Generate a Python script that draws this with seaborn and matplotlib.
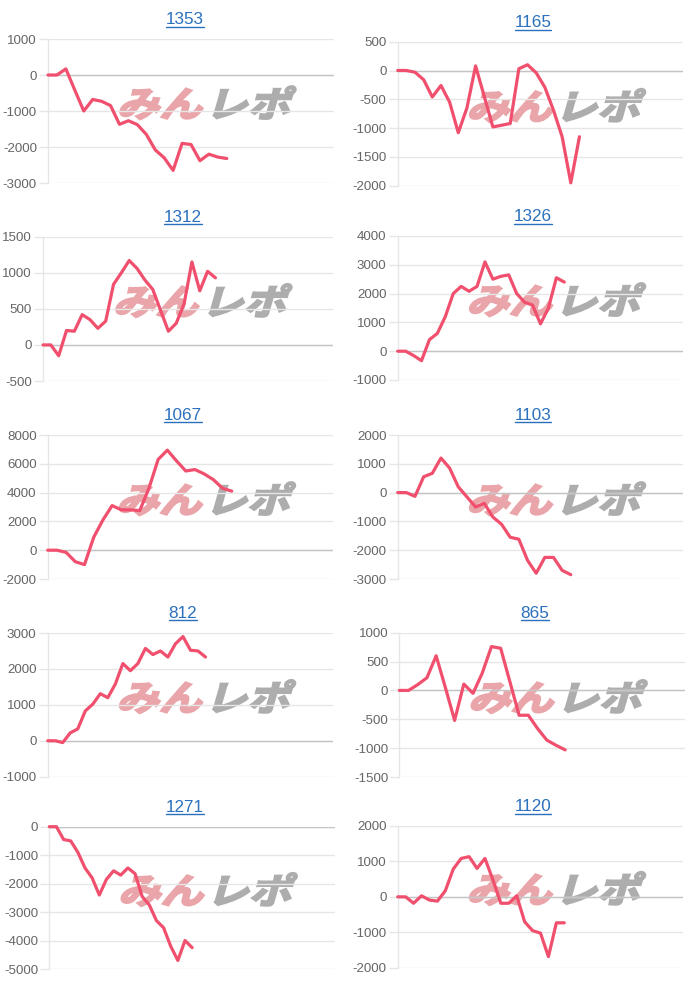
import matplotlib
matplotlib.use("Agg")
import matplotlib.pyplot as plt
import seaborn as sns
import pandas as pd
from matplotlib.lines import Line2D
from matplotlib.textpath import TextPath
from matplotlib.patches import PathPatch
from matplotlib.font_manager import FontProperties
from matplotlib.transforms import Affine2D

# ---------------- data ----------------
machines = ["1353", "1165", "1312", "1326", "1067", "1103", "812", "865", "1271", "1120"]

v1353 = [0, 0, 170, -420, -1000, -680, -730, -850, -1370, -1270, -1380, -1650,
         -2080, -2300, -2650, -1900, -1930, -2380, -2200, -2280, -2320]
v1165 = [0, 0, -30, -160, -460, -260, -550, -1080, -650, 80, -450, -980, -950,
         -920, 30, 100, -40, -290, -690, -1150, -1950, -1150]
v1312 = [0, 0, -150, 200, 190, 420, 350, 230, 330, 840, 1000, 1170, 1060, 900,
         770, 480, 190, 300, 570, 1150, 750, 1020, 930]
v1326 = [0, 0, -150, -330, 400, 620, 1200, 2000, 2250, 2080, 2250, 3100, 2500,
         2600, 2650, 2000, 1700, 1600, 950, 1500, 2550, 2400]
v1067 = [0, 0, -150, -800, -1000, 900, 2100, 3100, 2800, 2800, 2750, 4300, 6300,
         6950, 6200, 5500, 5600, 5300, 4900, 4300, 4100]
v1103 = [0, 0, -130, 550, 670, 1200, 850, 200, -150, -500, -370, -850, -1100,
         -1550, -1620, -2350, -2800, -2250, -2250, -2700, -2850]
v812 = [0, 0, -50, 220, 330, 830, 1020, 1310, 1200, 1580, 2150, 1950, 2150, 2570,
        2400, 2500, 2330, 2700, 2900, 2520, 2500, 2330]
v865 = [0, 0, 100, 220, 600, 50, -520, 110, -50, 300, 760, 730, 150, -430, -430,
        -660, -860, -950, -1030]
v1271 = [0, 0, -450, -500, -900, -1450, -1800, -2400, -1850, -1550, -1700, -1450,
         -1650, -2450, -2750, -3300, -3550, -4200, -4700, -4000, -4250]
v1120 = [0, 0, -180, 30, -90, -120, 170, 780, 1080, 1130, 800, 1080, 480, -180,
         -180, 30, -700, -950, -1020, -1680, -730, -730]

series = [v1353, v1165, v1312, v1326, v1067, v1103, v812, v865, v1271, v1120]

# number of category slots on each chart's x axis
x_slots = [32, 33, 37, 36, 31, 33, 38, 31, 40, 36]

yt1353 = [-3000, -2000, -1000, 0, 1000]
yt1165 = [-2000, -1500, -1000, -500, 0, 500]
yt1312 = [-500, 0, 500, 1000, 1500]
yt1326 = [-1000, 0, 1000, 2000, 3000, 4000]
yt1067 = [-2000, 0, 2000, 4000, 6000, 8000]
yt1103 = [-3000, -2000, -1000, 0, 1000, 2000]
yt812 = [-1000, 0, 1000, 2000, 3000]
yt865 = [-1500, -1000, -500, 0, 500, 1000]
yt1271 = [-5000, -4000, -3000, -2000, -1000, 0]
yt1120 = [-2000, -1000, 0, 1000, 2000]
yticks = [yt1353, yt1165, yt1312, yt1326, yt1067, yt1103, yt812, yt865, yt1271, yt1120]

wm_left, wm_right = "みん", "レポ"

# ---------------- layout (pixels) ----------------
# left, right, top, bottom, title_cx, title_cy
layout = [
    (48.0, 334.0, 39.0, 183.0, 185, 20.0),
    (397.7, 683.3, 41.7, 185.7, 533, 22.7),
    (43.0, 333.0, 236.7, 381.0, 183, 217.3),
    (397.7, 683.3, 236.0, 380.0, 533, 216.7),
    (47.7, 333.0, 435.0, 579.0, 183, 415.0),
    (397.7, 683.3, 435.0, 579.0, 533, 415.0),
    (47.7, 333.3, 633.0, 776.7, 183, 613.3),
    (399.3, 685.0, 632.7, 777.0, 535, 613.0),
    (49.3, 335.0, 826.7, 969.0, 185, 807.3),
    (397.7, 683.3, 825.7, 968.0, 533, 806.7),
]

W, H = 700, 984
LINE = "#f0506e"
GRID = "#e6e6e6"
ZERO = "#c4c4c4"
TICKTXT = "#666666"
TITLE = "#2a70bd"

sns.set_theme(style="white")
plt.rcParams['font.family'] = ['Liberation Sans', 'DejaVu Sans']

fig = plt.figure(figsize=(W / 100, H / 100), dpi=100)
fig.patch.set_facecolor("white")

wm_prop = FontProperties(family="Noto Sans CJK JP", weight="bold")
WM_SIZE = 41.0  # pixels per em

titles = []
for name, vals, ticks, nx, (l, r, t, b, tcx, tcy) in zip(
        machines, series, yticks, x_slots, layout):
    ax = fig.add_axes([l / W, 1 - b / H, (r - l) / W, (b - t) / H])
    ax.set_facecolor("none")
    df = pd.DataFrame({"x": list(range(len(vals))), "y": vals})

    # watermark (slanted, behind everything)
    x0 = l + 0.24 * (r - l)
    ybase = t + 0.54 * (b - t)
    for txt, col, dx in [(wm_left, "#e9a5a9", 0.0), (wm_right, "#adadad", 2 * WM_SIZE * 1.04 + 3)]:
        tp = TextPath((0, 0), txt, size=WM_SIZE, prop=wm_prop)
        tr = (Affine2D().scale(1.04, 0.86).skew_deg(16, 0)
              .translate(x0 + dx, H - ybase))
        patch = PathPatch(tp, transform=tr, facecolor=col, edgecolor=col,
                          linewidth=1.6, zorder=0, clip_on=False)
        ax.add_artist(patch)

    ax.set_axisbelow(True)
    ax.yaxis.grid(True, color=GRID, linewidth=1.0)
    ax.xaxis.grid(False)
    ax.axhline(0, color=ZERO, linewidth=1.0, zorder=1)

    sns.lineplot(data=df, x="x", y="y", ax=ax, color=LINE, linewidth=2.3,
                 zorder=3, clip_on=False)

    ax.set_xlim(0, nx)
    ax.set_ylim(ticks[0], ticks[-1])
    ax.set_yticks(ticks)
    ax.set_yticklabels([str(v) for v in ticks])
    ax.set_xticks([])
    ax.set_xlabel("")
    ax.set_ylabel("")
    for s in ["top", "right", "bottom"]:
        ax.spines[s].set_visible(False)
    ax.spines["left"].set_color(GRID)
    ax.spines["left"].set_linewidth(1.0)
    ax.tick_params(axis="y", length=6.5, width=1.0, color=GRID,
                   labelcolor=TICKTXT, labelsize=9.6, pad=1.5, left=True)

    tt = fig.text(tcx / W, 1 - tcy / H, name, ha="center", va="center",
                  color=TITLE, fontsize=12.3)
    titles.append((tt, tcy))

fig.canvas.draw()
renderer = fig.canvas.get_renderer()
for tt, tcy in titles:
    bb = tt.get_window_extent(renderer)
    yline = 1 - (tcy + 7.0) / H
    fig.add_artist(Line2D([bb.x0 / W, bb.x1 / W], [yline, yline],
                          transform=fig.transFigure, color=TITLE, linewidth=1.0))

fig.savefig("out.png", dpi=100, facecolor="white")
